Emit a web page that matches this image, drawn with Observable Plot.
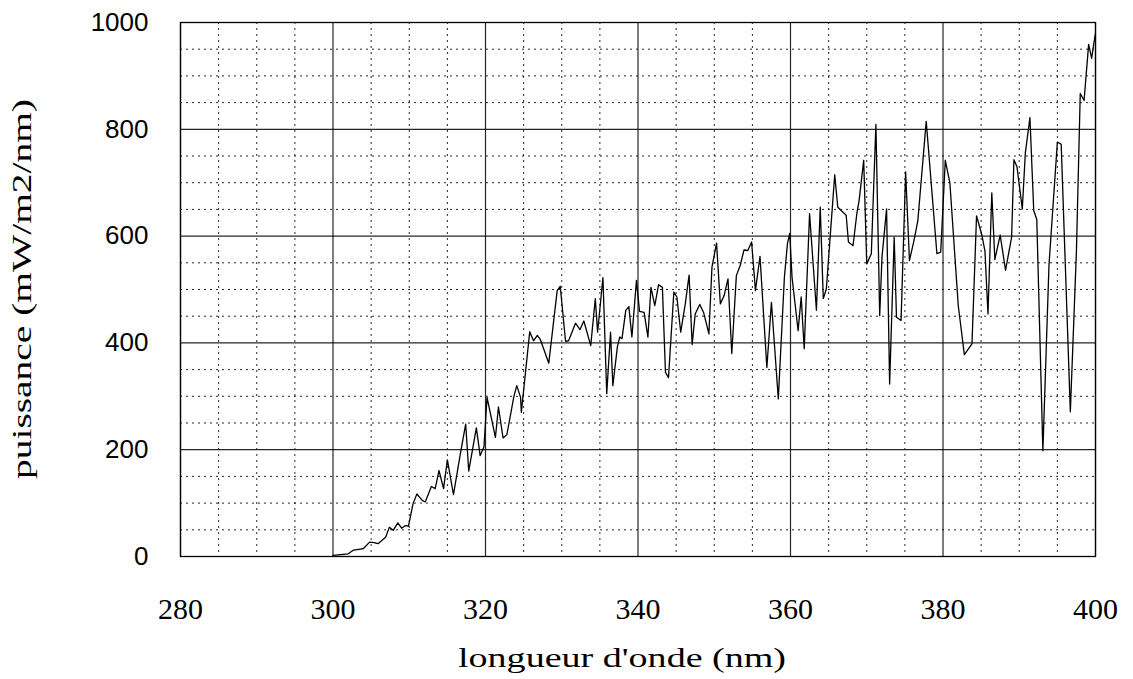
<!DOCTYPE html>
<html>
<head>
<meta charset="utf-8">
<script src="https://cdn.jsdelivr.net/npm/d3@7"></script>
<script src="https://cdn.jsdelivr.net/npm/@observablehq/plot@0.6"></script>
<style>
  html, body { margin: 0; padding: 0; background: #fff; }
  #chart svg { display: block; }
</style>
</head>
<body>
<div id="chart"></div>
<script>
// Wavelength (nm) and power (mW/m2/nm)
const wavelength = [
  300.0, 302.0, 302.7, 303.6, 304.0, 304.8, 305.4, 305.9, 306.9, 307.4,
  307.9, 308.5, 309.0, 309.5, 309.9, 310.5, 311.0, 311.7, 312.1, 312.9,
  313.4, 313.9, 314.5, 315.0, 315.8, 316.7, 317.4, 317.8, 318.8, 319.3,
  319.8, 320.2, 321.3, 321.7, 322.3, 322.8, 323.7, 324.1, 324.6, 324.7,
  325.8, 326.3, 326.8, 327.2, 328.3, 329.4, 329.8, 330.5, 330.9, 331.8,
  332.4, 332.9, 333.8, 334.4, 334.7, 335.4, 335.9, 336.4, 336.7, 337.3,
  337.6, 337.9, 338.4, 338.8, 339.2, 339.8, 340.2, 340.8, 341.3, 341.7,
  342.2, 342.7, 343.2, 343.6, 344.0, 344.7, 345.1, 345.6, 346.2, 346.7,
  347.1, 347.5, 348.1, 348.6, 349.3, 349.7, 350.3, 350.8, 351.3, 351.8,
  352.3, 352.9, 353.4, 353.9, 354.4, 354.9, 355.4, 356.0, 356.9, 357.5,
  358.4, 359.2, 359.6, 359.9, 360.2, 361.0, 361.4, 361.8, 362.5, 363.4,
  363.9, 364.3, 364.7, 365.2, 365.8, 366.2, 367.3, 367.6, 368.2, 368.7,
  369.0, 369.6, 370.0, 370.6, 370.8, 371.2, 371.7, 372.0, 372.6, 373.0,
  373.6, 373.9, 374.5, 375.1, 375.6, 376.2, 376.7, 377.8, 379.2, 379.7,
  380.3, 380.9, 382.0, 382.8, 383.8, 384.4, 385.1, 385.5, 385.9, 386.4,
  386.8, 387.5, 388.2, 389.0, 389.3, 389.7, 390.4, 390.8, 391.4, 391.9,
  392.3, 393.1, 393.9, 395.0, 395.5, 396.7, 397.5, 398.0, 398.5, 399.1,
  399.5, 399.8, 400.0
];
const power = [
  2, 5, 12, 14, 15, 27, 26, 24, 36, 55,
  49, 63, 53, 58, 57, 99, 117, 105, 102, 131,
  127, 161, 127, 181, 116, 192, 248, 160, 241, 189,
  205, 298, 223, 280, 222, 228, 298, 320, 298, 270,
  421, 404, 414, 406, 362, 498, 506, 403, 404, 437,
  425, 441, 395, 483, 420, 522, 305, 420, 320, 393,
  411, 408, 461, 468, 411, 517, 459, 457, 411, 504,
  470, 509, 504, 345, 335, 495, 486, 420, 473, 527,
  397, 454, 472, 457, 417, 542, 587, 473, 489, 520,
  380, 526, 545, 574, 573, 589, 498, 562, 354, 476,
  295, 523, 586, 605, 523, 423, 486, 389, 642, 461,
  654, 483, 501, 598, 715, 654, 639, 589, 582, 642,
  667, 742, 548, 567, 648, 809, 451, 561, 651, 323,
  598, 448, 442, 720, 554, 592, 629, 815, 567, 570,
  742, 700, 470, 378, 398, 638, 602, 572, 454, 681,
  556, 602, 536, 598, 743, 730, 651, 756, 822, 648,
  631, 198, 546, 776, 772, 271, 572, 867, 854, 959,
  933, 963, 979
];
const xTicks = [280, 300, 320, 340, 360, 380, 400];
const yTicks = [0, 200, 400, 600, 800, 1000];
const xMinor = [285, 290, 295, 305, 310, 315, 325, 330, 335, 345, 350, 355, 365, 370, 375, 385, 390, 395];
const yMinor = [50, 100, 150, 250, 300, 350, 450, 500, 550, 650, 700, 750, 850, 900, 950];
const xTitle = "longueur d'onde (nm)";
const yTitle = "puissance (mW/m2/nm)";

const data = wavelength.map((w, i) => ({w, p: power[i]}));

const W = 1133, H = 679;
const mL = 180, mR = 38, mT = 22, mB = 123;

const chart = Plot.plot({
  width: W,
  height: H,
  marginLeft: mL,
  marginRight: mR,
  marginTop: mT,
  marginBottom: mB,
  style: {background: "#fff", color: "#000", overflow: "visible"},
  x: {domain: [280, 400], label: null},
  y: {domain: [0, 1000], label: null},
  marks: [
    Plot.gridX(xMinor, {stroke: "#000", strokeOpacity: 0.85, strokeWidth: 1, strokeDasharray: "2,4"}),
    Plot.gridY(yMinor, {stroke: "#000", strokeOpacity: 0.85, strokeWidth: 1, strokeDasharray: "2,4"}),
    Plot.gridX(xTicks, {stroke: "#000", strokeOpacity: 0.85, strokeWidth: 1.2}),
    Plot.gridY(yTicks, {stroke: "#000", strokeOpacity: 0.85, strokeWidth: 1.2}),
    Plot.frame({stroke: "#000", strokeWidth: 1.3}),
    Plot.line(data, {x: "w", y: "p", stroke: "#000", strokeWidth: 1.3}),
    Plot.axisX(xTicks, {tickSize: 0, tickPadding: 41, fontSize: 30, fontFamily: "Liberation Serif, Times New Roman, serif", tickFormat: d => String(d), label: null}),
    Plot.axisY(yTicks, {tickSize: 0, tickPadding: 32, fontSize: 26, fontFamily: "Liberation Sans, Arial, sans-serif", tickFormat: d => String(d), label: null})
  ]
});

document.getElementById("chart").appendChild(chart);

// axis titles
const svg = d3.select(chart);
svg.append("text")
  .attr("x", 622)
  .attr("y", 667)
  .attr("text-anchor", "middle")
  .attr("font-family", "Liberation Serif, Times New Roman, serif")
  .attr("font-size", 27)
  .attr("textLength", 328)
  .attr("lengthAdjust", "spacingAndGlyphs")
  .attr("fill", "#000")
  .text(xTitle);
svg.append("text")
  .attr("transform", `translate(31,${(mT + H - mB) / 2}) rotate(-90)`)
  .attr("text-anchor", "middle")
  .attr("font-family", "Liberation Serif, Times New Roman, serif")
  .attr("font-size", 27)
  .attr("textLength", 380)
  .attr("lengthAdjust", "spacingAndGlyphs")
  .attr("fill", "#000")
  .text(yTitle);
</script>
</body>
</html>
